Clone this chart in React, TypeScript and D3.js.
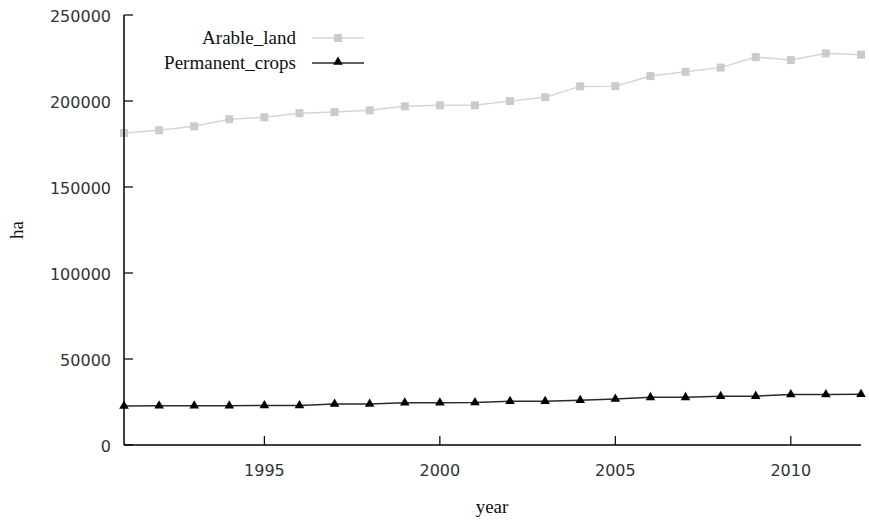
import React from 'react';
import * as d3 from 'd3';

const years = [
  1991, 1992, 1993, 1994, 1995, 1996, 1997, 1998, 1999, 2000, 2001,
  2002, 2003, 2004, 2005, 2006, 2007, 2008, 2009, 2010, 2011, 2012,
];
const arableLand = [
  181400, 183000, 185300, 189400, 190500, 192900, 193600, 194600, 196900, 197500, 197500,
  200000, 202200, 208500, 208600, 214500, 217000, 219400, 225600, 223800, 227700, 226900,
];
const permanentCrops = [
  22700, 22800, 22800, 22800, 23000, 23000, 23800, 23800, 24600, 24600, 24700,
  25400, 25400, 26000, 26700, 27700, 27700, 28300, 28400, 29400, 29400, 29500,
];
const yTicks = [0, 50000, 100000, 150000, 200000, 250000];
const xTicks = [1995, 2000, 2005, 2010];

const W = 869;
const H = 524;
const serif = '"Liberation Serif", "Times New Roman", serif';
const sans = '"DejaVu Sans", sans-serif';

const App: React.FC = () => {
  const x = d3.scaleLinear().domain([1991, 2012]).range([124, 861]);
  const y = d3.scaleLinear().domain([0, 250000]).range([445, 15]);

  const line = d3.line<number>()
    .x((_, i) => x(years[i]))
    .y(d => y(d));

  const tri = d3.symbol().type(d3.symbolTriangle).size(40)();

  return (
    <div style={{ position: 'absolute', left: 0, top: 0 }}>
      <svg width={W} height={H} style={{ display: 'block', background: '#fff' }}>
        {/* series */}
        <path d={line(arableLand) || ''} fill="none" stroke="#d6d6d6" strokeWidth={1.5} />
        {arableLand.map((v, i) => (
          <rect key={'a' + i} x={x(years[i]) - 4} y={y(v) - 4} width={8} height={8} fill="#cbcbcb" />
        ))}
        <path d={line(permanentCrops) || ''} fill="none" stroke="#2a2a2a" strokeWidth={1.5} />
        {permanentCrops.map((v, i) => (
          <path key={'p' + i} d={tri || ''} transform={`translate(${x(years[i])},${y(v)})`} fill="#000" />
        ))}

        {/* axes */}
        <line x1={x(1991)} x2={x(1991)} y1={y(250000)} y2={y(0)} stroke="#000" strokeWidth={1.5} />
        <line x1={x(1991)} x2={x(2012)} y1={y(0)} y2={y(0)} stroke="#000" strokeWidth={1.5} />
        {yTicks.map(t => (
          <g key={'y' + t}>
            <line x1={x(1991)} x2={x(1991) + 9} y1={y(t)} y2={y(t)} stroke="#000" strokeWidth={1.2} />
            <text x={111} y={y(t) + 7} textAnchor="end" fontFamily={sans} fontSize={16} fill="#333">{t}</text>
          </g>
        ))}
        {xTicks.map(t => (
          <g key={'x' + t}>
            <line x1={x(t)} x2={x(t)} y1={y(0)} y2={y(0) - 9} stroke="#000" strokeWidth={1.2} />
            <text x={x(t)} y={476} textAnchor="middle" fontFamily={sans} fontSize={16} fill="#333">{t}</text>
          </g>
        ))}

        {/* axis titles */}
        <text x={492} y={513} textAnchor="middle" fontFamily={serif} fontSize={19} fill="#111">year</text>
        <text transform="translate(23,230) rotate(-90)" textAnchor="middle" fontFamily={serif} fontSize={19} fill="#111">ha</text>

        {/* legend */}
        <text x={296} y={44} textAnchor="end" fontFamily={serif} fontSize={19} fill="#111">Arable_land</text>
        <line x1={312} x2={364} y1={38} y2={38} stroke="#d6d6d6" strokeWidth={1.5} />
        <rect x={334} y={34} width={8} height={8} fill="#cbcbcb" />
        <text x={296} y={69} textAnchor="end" fontFamily={serif} fontSize={19} fill="#111">Permanent_crops</text>
        <line x1={312} x2={364} y1={63} y2={63} stroke="#2a2a2a" strokeWidth={1.5} />
        <path d={tri || ''} transform="translate(338,62)" fill="#000" />
      </svg>
    </div>
  );
};

export default App;
